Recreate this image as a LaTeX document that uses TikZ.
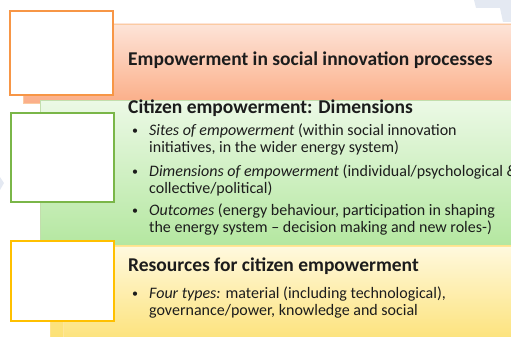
\documentclass[tikz,border=0pt]{standalone}
\usepackage{fontspec}
\setmainfont{Carlito}
\usetikzlibrary{positioning}
\definecolor{orangeline}{HTML}{F79646}
\definecolor{orangetop}{HTML}{FDE4D8}
\definecolor{orangebot}{HTML}{FBAE88}
\definecolor{greenline}{HTML}{7AB648}
\definecolor{greentop}{HTML}{ECF9E6}
\definecolor{greenbot}{HTML}{B4E7A0}
\definecolor{yellowline}{HTML}{FFC000}
\definecolor{yellowtop}{HTML}{FFF9DE}
\definecolor{yellowbot}{HTML}{FCE071}
\definecolor{faintblue}{HTML}{E4E9F2}
\definecolor{textdark}{HTML}{1C1C1C}
\tikzset{band/.style={line width=0.6pt}}
\tikzset{tab/.style={draw,fill=white,line width=1.6pt,minimum width=103pt,minimum height=84pt,anchor=north west,inner sep=0pt}}
\tikzset{head/.style={font=\bfseries\fontsize{19.5}{21}\selectfont,text=textdark,anchor=base west,inner sep=0pt}}
\tikzset{item/.style={font=\fontsize{16}{17}\selectfont,text=textdark,align=left,anchor=base west,inner sep=0pt}}
\tikzset{dot/.style={font=\fontsize{12}{14}\selectfont,text=textdark,anchor=base west,inner sep=0pt}}

\begin{document}
\begin{tikzpicture}[x=1pt,y=-1pt]
        \useasboundingbox (0,0) rectangle (511,337);
        \clip (0,0) rectangle (511,337);
        % faint shapes from behind
        \fill[faintblue] (474,0) -- (511,0) -- (511,22) -- (503,22) -- (500,8) -- (476,8) -- cycle;
        \fill[faintblue] (0,177) -- (4,183) -- (0,190) -- cycle;
        % bands
        \draw[band,draw=orangeline!50,top color=orangetop,bottom color=orangebot] (23,24) rectangle (530,103);
        \draw[band,draw=greenline!45,top color=greentop,bottom color=greenbot] (40,100) rectangle (530,246);
        \draw[band,draw=yellowline!45,top color=yellowbot!70,bottom color=yellowbot] (50,245) rectangle (530,350);
        \draw[band,draw=yellowline!40,top color=yellowtop,bottom color=yellowbot] (63,246) rectangle (530,350);
        % tabs
        \node[tab,draw=orangeline] (process) at (9,10) {};
        \node[tab,draw=greenline,minimum height=89pt] (dimensions) at (10,112) {};
        \node[tab,draw=yellowline,minimum height=80pt] (resources) at (10,240) {};
        % texts (base of a two-line node is its last line)
        \node[head] (processtitle) at (128,66) {Empowerment in social innovation processes};
        \node[head] (dimtitle) at (128,113) {Citizen empowerment: Dimensions};
        \node[dot] (dot1) at (132,134) {\textbullet};
        \node[item] (sites) at (149,152) {\textit{Sites of empowerment} (within social innovation\\initiatives, in the wider energy system)};
        \node[dot] (dot2) at (132,175) {\textbullet};
        \node[item] (dims) at (149,193) {\textit{Dimensions of empowerment} (individual/psychological \&\\collective/political)};
        \node[dot] (dot3) at (132,214) {\textbullet};
        \node[item] (outcomes) at (149,232) {\textit{Outcomes} (energy behaviour, participation in shaping\\the energy system -- decision making and new roles-)};
        \node[head] (restitle) at (128,271) {Resources for citizen empowerment};
        \node[dot] (dot4) at (132,297) {\textbullet};
        \node[item] (types) at (149,315) {\textit{Four types:} material (including technological),\\governance/power, knowledge and social};
\end{tikzpicture}
\end{document}
